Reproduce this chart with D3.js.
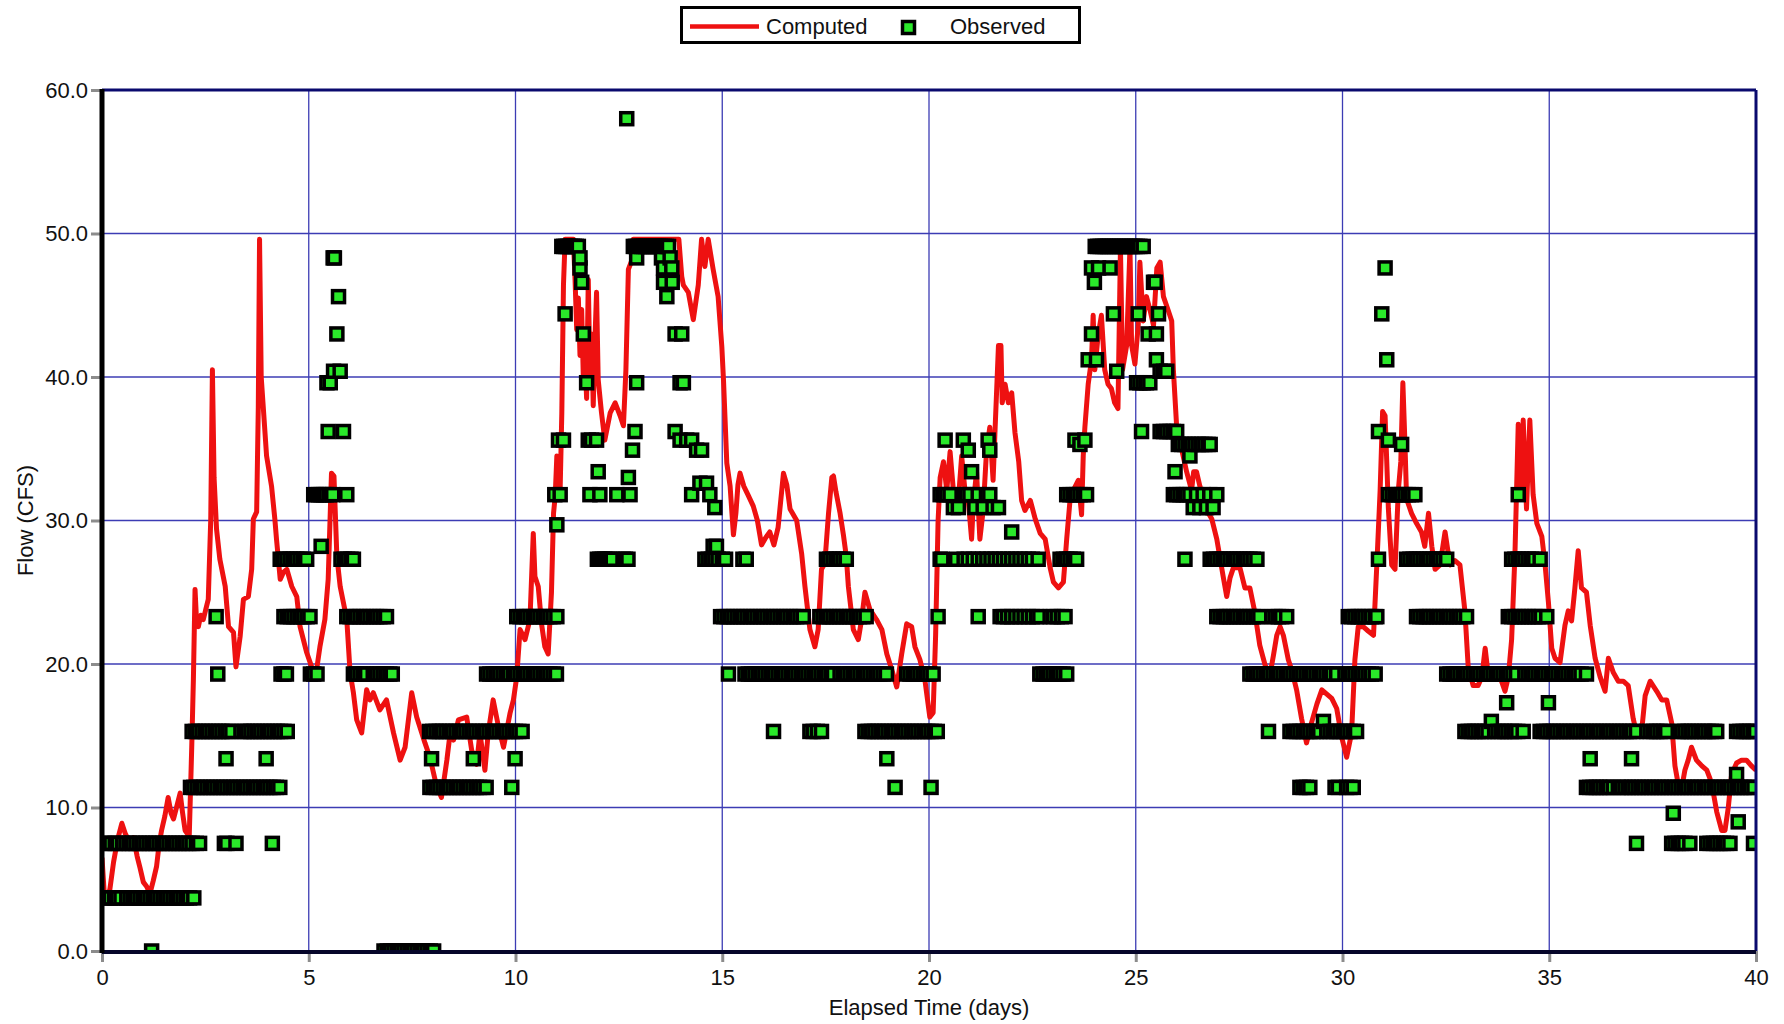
<!DOCTYPE html>
<html>
<head>
<meta charset="utf-8">
<script src="https://cdn.jsdelivr.net/npm/d3@7"></script>
<style>
  body { margin: 0; background: #fff; }
  text { font-family: "Liberation Sans", Arial, Helvetica, sans-serif; }
</style>
</head>
<body>
<svg id="chart" width="1784" height="1024"></svg>
<script>
'use strict';

// tick values
const xTicks = [0, 5, 10, 15, 20, 25, 30, 35, 40];
const yTicks = [0, 10, 20, 30, 40, 50, 60];

// computed flow, [elapsed day, cfs]
const computed = [
  [0.00,6.5],[0.05,4.2],[0.12,3.6],[0.19,4.3],[0.28,6.2],[0.38,7.8],[0.48,8.9],[0.56,8.2],[0.66,7.6],[0.76,7.9],
  [0.85,6.6],[0.92,5.8],[1.00,4.8],[1.08,4.5],[1.16,4.0],[1.24,4.9],[1.32,5.9],[1.38,7.4],[1.44,8.4],[1.52,9.4],
  [1.60,10.7],[1.67,9.6],[1.73,9.2],[1.81,10.1],[1.89,11.0],[1.95,9.6],[2.01,8.4],[2.11,8.0],[2.17,14.2],[2.21,18.9],
  [2.25,25.2],[2.29,22.8],[2.33,22.6],[2.39,23.4],[2.45,23.1],[2.51,23.8],[2.57,24.5],[2.63,30.1],[2.67,40.5],[2.71,33.0],
  [2.77,29.4],[2.85,27.3],[2.98,25.4],[3.06,22.6],[3.18,22.2],[3.24,19.8],[3.34,21.9],[3.42,24.5],[3.54,24.7],[3.62,26.6],
  [3.66,30.1],[3.74,30.6],[3.78,37.9],[3.81,49.6],[3.85,40.0],[3.90,37.9],[3.98,34.5],[4.10,32.4],[4.18,30.1],[4.22,28.7],
  [4.31,25.9],[4.39,26.4],[4.47,26.6],[4.59,25.4],[4.71,24.7],[4.79,22.6],[4.95,20.8],[5.07,19.8],[5.19,19.6],[5.27,21.2],
  [5.39,23.1],[5.47,25.9],[5.55,33.3],[5.61,33.1],[5.68,27.5],[5.76,25.4],[5.92,23.1],[6.00,19.4],[6.08,18.0],[6.16,16.1],
  [6.28,15.2],[6.40,18.2],[6.48,17.5],[6.56,18.0],[6.72,16.8],[6.88,17.5],[7.05,15.2],[7.21,13.3],[7.33,14.2],[7.49,18.0],
  [7.61,16.3],[7.81,14.5],[7.93,13.5],[8.09,11.5],[8.21,10.7],[8.34,13.3],[8.42,15.2],[8.50,14.7],[8.62,16.1],[8.82,16.3],
  [8.94,14.0],[9.06,13.0],[9.14,15.2],[9.26,12.6],[9.34,15.2],[9.46,17.5],[9.59,15.6],[9.71,14.2],[9.87,16.6],[9.95,17.5],
  [10.03,19.1],[10.11,22.4],[10.23,21.7],[10.35,23.1],[10.43,29.1],[10.47,26.1],[10.55,25.4],[10.63,22.8],[10.71,21.2],[10.79,20.7],
  [10.87,25.0],[10.92,30.5],[10.96,31.7],[11.00,34.5],[11.08,32.2],[11.12,37.5],[11.16,46.4],[11.20,49.6],[11.40,49.6],[11.44,46.8],
  [11.48,43.3],[11.52,45.5],[11.56,41.5],[11.60,44.7],[11.64,40.0],[11.68,41.4],[11.72,38.5],[11.76,46.8],[11.80,40.2],[11.84,43.0],
  [11.88,38.0],[11.92,42.5],[11.96,45.9],[12.00,39.8],[12.08,37.5],[12.16,35.6],[12.29,37.5],[12.41,38.2],[12.53,37.3],[12.61,36.6],
  [12.67,40.5],[12.73,47.5],[12.81,48.1],[12.85,49.6],[13.95,49.6],[14.02,47.0],[14.06,46.4],[14.18,45.9],[14.30,44.0],[14.42,46.4],
  [14.50,49.6],[14.58,47.7],[14.66,49.6],[14.78,47.5],[14.90,45.6],[14.99,42.1],[15.03,39.8],[15.11,34.0],[15.19,32.4],[15.27,29.0],
  [15.33,30.5],[15.38,32.5],[15.43,33.3],[15.52,32.4],[15.62,31.8],[15.75,31.0],[15.85,30.0],[15.95,28.3],[16.05,28.8],[16.15,29.2],
  [16.25,28.3],[16.35,29.5],[16.48,33.3],[16.56,32.5],[16.64,30.8],[16.80,30.0],[16.92,27.7],[17.00,25.4],[17.12,22.4],[17.24,21.2],
  [17.32,22.4],[17.40,26.6],[17.48,27.0],[17.57,30.5],[17.65,33.0],[17.69,33.1],[17.75,32.0],[17.85,30.5],[17.93,29.0],[18.00,27.5],
  [18.05,25.4],[18.17,22.4],[18.29,21.7],[18.37,23.1],[18.45,25.0],[18.57,23.8],[18.73,23.1],[18.86,22.4],[18.98,20.7],[19.10,19.6],
  [19.22,18.4],[19.34,20.7],[19.46,22.8],[19.58,22.6],[19.66,21.2],[19.78,20.3],[19.90,18.9],[20.02,16.3],[20.10,16.6],[20.16,22.0],
  [20.22,30.0],[20.27,33.0],[20.35,34.1],[20.43,32.1],[20.51,34.8],[20.59,32.1],[20.71,31.4],[20.79,34.5],[20.87,32.1],[20.95,31.4],
  [21.03,28.7],[21.07,31.1],[21.15,33.4],[21.23,28.7],[21.31,30.7],[21.39,34.8],[21.47,36.5],[21.55,32.8],[21.60,36.5],[21.68,42.2],
  [21.74,42.2],[21.77,38.2],[21.84,39.5],[21.92,38.2],[22.00,38.9],[22.08,36.1],[22.17,34.1],[22.24,31.4],[22.32,30.7],[22.45,31.4],
  [22.57,30.1],[22.69,29.1],[22.81,28.7],[22.93,26.7],[23.01,25.7],[23.13,25.3],[23.25,25.7],[23.33,28.7],[23.41,31.4],[23.49,32.1],
  [23.61,32.8],[23.69,30.4],[23.73,34.5],[23.77,36.5],[23.85,39.5],[23.93,41.2],[23.97,44.3],[24.01,40.5],[24.09,42.9],[24.17,44.3],
  [24.25,40.5],[24.33,39.5],[24.41,39.2],[24.49,38.2],[24.57,37.8],[24.63,49.0],[24.68,40.5],[24.78,42.2],[24.86,49.0],[24.90,42.2],
  [24.98,40.9],[25.06,43.6],[25.10,48.0],[25.18,43.9],[25.26,45.6],[25.35,44.6],[25.43,43.6],[25.51,47.6],[25.59,48.0],[25.67,45.6],
  [25.79,44.6],[25.87,43.9],[25.91,40.5],[25.99,36.5],[26.07,35.5],[26.23,33.4],[26.35,32.1],[26.40,33.4],[26.47,33.4],[26.55,32.4],
  [26.72,30.7],[26.84,30.1],[26.96,28.7],[27.12,26.0],[27.20,24.7],[27.28,26.0],[27.36,26.7],[27.52,26.7],[27.64,25.3],[27.76,25.3],
  [27.88,23.6],[28.00,21.3],[28.13,19.9],[28.25,19.3],[28.33,20.6],[28.41,22.0],[28.49,22.6],[28.57,22.0],[28.69,20.3],[28.77,19.6],
  [28.89,18.2],[29.01,16.2],[29.13,14.5],[29.25,15.9],[29.38,17.2],[29.50,18.2],[29.62,17.9],[29.74,17.6],[29.86,16.9],[29.98,14.9],
  [30.10,13.5],[30.22,15.2],[30.30,20.3],[30.38,22.6],[30.50,22.6],[30.62,22.3],[30.75,22.0],[30.83,26.9],[30.91,32.1],[30.97,37.6],
  [31.03,37.3],[31.07,34.1],[31.11,30.8],[31.19,26.9],[31.27,26.6],[31.35,32.1],[31.41,34.1],[31.46,39.6],[31.51,35.4],[31.55,31.5],
  [31.67,30.5],[31.79,29.8],[31.91,29.2],[31.99,28.2],[32.08,30.5],[32.16,28.2],[32.24,26.6],[32.36,26.9],[32.48,29.2],[32.60,26.9],
  [32.72,27.2],[32.84,26.9],[32.96,23.7],[33.04,19.8],[33.16,18.5],[33.28,18.5],[33.37,19.1],[33.45,21.1],[33.53,19.1],[33.65,19.4],
  [33.81,19.1],[33.93,18.1],[34.01,19.1],[34.09,21.7],[34.17,27.6],[34.25,36.7],[34.33,32.4],[34.37,37.0],[34.45,30.8],[34.53,37.0],
  [34.61,31.8],[34.70,29.8],[34.82,28.9],[34.90,26.9],[34.98,24.3],[35.06,21.1],[35.14,20.4],[35.26,20.1],[35.38,22.7],[35.46,23.7],
  [35.54,23.0],[35.62,25.3],[35.70,27.9],[35.78,25.3],[35.90,25.0],[35.99,22.7],[36.11,20.4],[36.23,19.1],[36.35,18.1],[36.43,20.4],
  [36.55,19.4],[36.67,18.8],[36.79,18.8],[36.91,18.5],[37.03,16.2],[37.11,15.2],[37.23,15.2],[37.32,17.8],[37.44,18.8],[37.60,18.1],
  [37.72,17.5],[37.84,17.5],[37.96,15.9],[38.04,12.9],[38.12,11.6],[38.20,11.3],[38.28,12.6],[38.36,13.3],[38.44,14.2],[38.56,13.3],
  [38.69,12.9],[38.81,12.6],[38.89,12.0],[38.97,11.0],[39.05,9.7],[39.17,8.4],[39.25,8.4],[39.33,10.0],[39.41,12.3],[39.53,13.1],
  [39.65,13.3],[39.77,13.3],[39.89,12.9],[40.00,12.6]
];

// observed flow: [cfs, days on which that value was observed]
const observed = [
  [0.0, [1.20,6.82,6.90,6.98,7.06,7.14,7.22,7.30,7.38,7.46,7.54,7.62,7.70,7.78,7.86,7.94,8.02]],
  [3.7, [0.02,0.10,0.20,0.30,0.38,0.46,0.60,0.68,0.76,0.84,0.92,1.00,1.08,1.16,1.24,1.32,1.40,1.48,1.56,1.64,
         1.72,1.80,1.88,1.96,2.04,2.12,2.22]],
  [7.5, [0.04,0.12,0.22,0.32,0.40,0.50,0.58,0.66,0.74,0.82,0.90,0.98,1.06,1.14,1.22,1.30,1.38,1.46,1.54,1.62,
         1.70,1.78,1.86,1.94,2.02,2.10,2.18,2.28,2.36,2.96,3.02,3.24,4.12,37.11,37.96,38.04,38.12,38.20,38.28,38.40,
         38.81,38.89,38.97,39.05,39.13,39.21,39.29,39.37,39.94]],
  [9.0, [39.57]],
  [9.6, [38.00]],
  [11.4, [2.14,2.22,2.30,2.38,2.46,2.54,2.62,2.70,2.78,2.86,2.94,3.02,3.10,3.18,3.26,3.34,3.42,3.50,3.58,3.66,
          3.74,3.82,3.90,3.98,4.06,4.14,4.22,4.30,7.93,8.01,8.09,8.17,8.25,8.33,8.41,8.49,8.57,8.65,8.73,8.81,
          8.89,8.97,9.05,9.13,9.21,9.29,9.91,19.18,20.05,28.97,29.05,29.13,29.21,29.82,29.90,30.10,30.18,30.26,
          35.90,35.98,36.06,36.14,36.22,36.30,36.38,36.46,36.55,36.67,36.75,36.83,36.91,36.99,37.07,37.15,37.23,
          37.31,37.39,37.47,37.55,37.63,37.71,37.79,37.87,37.95,38.03,38.11,38.19,38.27,38.35,38.43,38.51,38.59,
          38.67,38.75,38.83,38.91,38.99,39.07,39.15,39.23,39.31,39.39,39.47,39.55,39.63,39.71,39.79,39.87,39.95]],
  [12.3, [39.53]],
  [13.4, [3.00,3.97,7.97,8.98,9.99,18.98,35.99,36.99]],
  [15.3, [2.18,2.26,2.34,2.42,2.50,2.58,2.66,2.74,2.82,2.90,2.98,3.06,3.14,3.36,3.44,3.52,3.60,3.68,3.76,3.84,
          3.92,4.00,4.08,4.16,4.24,4.32,4.40,4.48,7.92,8.00,8.08,8.16,8.24,8.32,8.40,8.48,8.56,8.64,8.72,8.80,
          8.88,8.96,9.04,9.12,9.20,9.28,9.36,9.44,9.52,9.60,9.68,9.76,9.84,9.92,10.00,10.08,10.16,16.24,17.12,17.20,
          17.30,17.40,18.45,18.53,18.61,18.69,18.77,18.85,18.93,19.01,19.09,19.17,19.25,19.33,19.41,19.49,19.57,19.65,
          19.73,19.81,19.89,19.97,20.05,20.13,20.20,28.21,28.73,28.81,28.89,28.97,29.05,29.13,29.21,29.29,29.37,29.45,
          29.62,29.70,29.78,29.86,29.94,30.02,30.10,30.18,30.26,30.34,32.96,33.04,33.12,33.20,33.28,33.36,33.44,33.52,
          33.68,33.76,33.84,33.92,34.00,34.08,34.16,34.24,34.37,34.78,34.86,34.94,35.02,35.10,35.18,35.26,35.34,35.42,
          35.50,35.58,35.66,35.74,35.82,35.90,35.98,36.06,36.14,36.22,36.30,36.38,36.46,36.54,36.62,36.70,36.78,36.86,
          36.94,37.02,37.11,37.36,37.44,37.52,37.60,37.68,37.76,37.84,38.12,38.20,38.28,38.36,38.44,38.52,38.60,38.68,
          38.76,38.84,38.92,39.00,39.05,39.53,39.61,39.69,39.77,39.85,39.93,39.99]],
  [16.0, [29.54,33.60]],
  [17.3, [33.97,34.98]],
  [19.3, [2.80,4.33,4.40,4.46,5.04,5.12,5.20,6.08,6.16,6.24,6.32,6.40,6.56,6.64,6.72,6.80,6.88,6.96,7.02,9.30,
          9.38,9.46,9.54,9.62,9.70,9.78,9.86,9.95,10.03,10.11,10.19,10.27,10.35,10.43,10.51,10.59,10.67,10.75,10.83,10.91,
          10.99,15.15,15.55,15.63,15.71,15.79,15.87,15.95,16.03,16.11,16.19,16.27,16.35,16.43,16.51,16.59,16.67,16.75,16.83,
          16.91,16.99,17.07,17.15,17.23,17.31,17.39,17.47,17.55,17.63,17.69,17.85,17.93,18.01,18.09,18.17,18.25,18.33,18.41,
          18.49,18.57,18.65,18.73,18.81,18.89,18.97,19.46,19.54,19.62,19.70,19.78,19.86,19.94,20.02,20.10,22.68,22.76,22.84,
          22.92,23.00,23.08,23.16,23.24,23.33,27.76,27.84,27.92,28.00,28.08,28.16,28.24,28.32,28.40,28.48,28.56,28.64,28.72,
          28.80,28.88,28.96,29.04,29.12,29.20,29.28,29.36,29.44,29.52,29.60,29.68,29.76,29.86,30.06,30.14,30.22,30.30,30.38,
          30.46,30.54,30.62,30.70,30.79,32.52,32.60,32.68,32.76,32.84,32.92,33.00,33.08,33.16,33.24,33.32,33.40,33.48,33.56,
          33.64,33.72,33.80,33.88,33.96,34.04,34.12,34.21,34.41,34.49,34.57,34.65,34.73,34.81,34.89,34.97,35.05,35.13,35.21,
          35.29,35.37,35.45,35.53,35.61,35.69,35.77,35.90]],
  [23.3, [2.76,4.40,4.48,4.56,4.64,4.72,4.80,4.88,4.96,5.03,5.92,6.00,6.08,6.16,6.24,6.32,6.40,6.48,6.56,6.64,
          6.72,6.80,6.88,10.03,10.11,10.19,10.27,10.35,10.43,10.51,10.59,10.67,10.75,10.83,10.91,11.00,14.96,15.04,15.12,
          15.20,15.28,15.36,15.44,15.52,15.60,15.68,15.76,15.84,15.92,16.00,16.08,16.16,16.24,16.32,16.40,16.48,16.56,16.64,
          16.72,16.80,16.88,16.96,17.36,17.44,17.52,17.60,17.68,17.76,17.84,17.92,18.00,18.08,18.16,18.24,18.32,18.40,18.48,
          20.22,21.19,21.72,21.80,21.90,22.00,22.10,22.20,22.30,22.40,22.50,22.60,22.68,22.93,23.01,23.10,23.20,23.29,26.96,
          27.04,27.12,27.20,27.28,27.36,27.44,27.52,27.60,27.68,27.76,27.84,27.92,28.00,28.29,28.37,28.45,28.53,28.65,30.14,
          30.22,30.30,30.38,30.46,30.54,30.62,30.70,30.79,30.83,31.79,31.87,31.95,32.03,32.11,32.19,32.27,32.35,32.43,32.51,
          32.59,32.67,32.75,32.83,32.91,33.00,34.01,34.09,34.17,34.25,34.33,34.41,34.49,34.57,34.65,34.73,34.81,34.94]],
  [27.3, [4.31,4.39,4.47,4.55,4.63,4.71,4.79,4.87,4.95,5.78,5.86,5.94,6.02,6.08,11.98,12.04,12.10,12.16,12.22,12.28,
          12.34,12.60,12.66,12.72,14.58,14.66,14.74,14.82,14.90,15.00,15.08,15.50,15.58,17.52,17.60,17.68,17.76,17.84,17.92,
          18.00,20.27,20.31,20.67,20.85,20.95,21.07,21.19,21.30,21.40,21.50,21.60,21.70,21.80,21.90,22.00,22.10,22.20,22.30,
          22.40,22.50,22.64,23.17,23.25,23.33,23.41,23.49,23.57,26.19,26.80,26.88,26.96,27.04,27.12,27.20,27.28,27.36,27.44,
          27.52,27.60,27.68,27.76,27.84,27.93,30.87,31.55,31.63,31.71,31.79,31.87,31.95,32.03,32.11,32.19,32.27,32.35,32.43,
          32.52,34.09,34.17,34.25,34.33,34.41,34.49,34.57,34.65,34.78]],
  [28.2, [5.30,14.78,14.86]],
  [29.2, [22.00]],
  [29.7, [11.00]],
  [30.9, [14.82,20.59,20.71,21.11,21.31,21.55,21.68,26.39,26.55,26.71,26.87]],
  [31.8, [5.12,5.18,5.24,5.30,5.36,5.42,5.50,5.58,5.92,10.95,11.08,11.80,12.04,12.45,12.77,14.26,14.70,20.27,20.35,20.43,
          20.51,20.83,20.91,20.99,21.19,21.39,21.47,23.33,23.41,23.49,23.57,23.65,23.73,23.81,25.91,25.99,26.07,26.15,26.23,
          26.31,26.47,26.63,26.79,26.96,31.11,31.20,31.28,31.36,31.43,31.51,31.59,31.67,31.75,34.25]],
  [32.6, [14.46,14.62]],
  [33.0, [12.73]],
  [33.4, [12.00,21.03,25.95]],
  [34.5, [26.31]],
  [34.9, [12.83,14.38,14.50,20.95,21.47]],
  [35.3, [23.65,26.03,26.11,26.19,26.27,26.35,26.43,26.51,26.59,26.67,26.75,26.80,31.43]],
  [35.6, [11.04,11.16,11.76,11.84,11.96,13.98,14.14,14.26,20.39,20.83,21.43,23.53,23.77,31.11]],
  [36.2, [5.47,5.84,12.89,13.86,25.14,25.59,25.67,25.75,25.83,25.91,25.99,30.87]],
  [39.6, [5.44,5.52,11.72,12.93,13.98,14.06,25.02,25.10,25.18,25.26,25.34]],
  [40.4, [5.60,5.76,24.54,25.59,25.67,25.75]],
  [41.2, [23.85,24.05,25.50,31.07]],
  [43.0, [5.68,11.64,13.86,14.02,23.93,25.30,25.50]],
  [44.4, [11.20,24.46,25.06,25.55,30.95]],
  [45.6, [5.72,13.66]],
  [46.6, [11.60,13.58,13.79,24.00,25.43,25.47]],
  [47.6, [11.56,13.58,13.78,23.93,24.10,24.38,31.03]],
  [48.3, [5.59,5.62,11.56,12.93,13.53,13.74]],
  [49.1, [11.12,11.17,11.22,11.27,11.32,11.37,11.42,11.47,11.52,12.85,12.90,12.95,13.00,13.05,13.10,13.15,13.20,13.25,13.30,13.35,
          13.40,13.45,13.50,13.55,13.60,13.65,13.70,24.02,24.08,24.14,24.20,24.26,24.32,24.38,24.44,24.50,24.56,24.62,24.68,24.74,
          24.80,24.86,24.92,24.98,25.04,25.10,25.18]],
  [58.0, [12.69]]
];

const width = 1784;
const height = 1024;
const plot = {left: 102, right: 1756, top: 90, bottom: 951};

const x = d3.scaleLinear().domain([0, 40]).range([plot.left, plot.right]);
const y = d3.scaleLinear().domain([0, 60]).range([plot.bottom, plot.top]);

const svg = d3.select("#chart");
svg.append("rect").attr("width", width).attr("height", height).attr("fill", "#fff");

svg.append("defs").append("clipPath").attr("id", "plotclip")
  .append("rect")
    .attr("x", plot.left).attr("y", plot.top)
    .attr("width", plot.right - plot.left).attr("height", plot.bottom - plot.top);

// grid
const grid = svg.append("g").attr("stroke", "#3c3cb4").attr("stroke-width", 1.3);
grid.selectAll(".vgrid")
  .data(xTicks.slice(1, -1))
  .enter().append("line")
    .attr("x1", d => x(d)).attr("x2", d => x(d))
    .attr("y1", plot.top).attr("y2", plot.bottom);
grid.selectAll(".hgrid")
  .data(yTicks.slice(1, -1))
  .enter().append("line")
    .attr("x1", plot.left).attr("x2", plot.right)
    .attr("y1", d => y(d)).attr("y2", d => y(d));

// computed line
const line = d3.line().x(d => x(d[0])).y(d => y(d[1]));
svg.append("path")
  .datum(computed)
  .attr("clip-path", "url(#plotclip)")
  .attr("d", line)
  .attr("fill", "none")
  .attr("stroke", "#ee1111")
  .attr("stroke-width", 5)
  .attr("stroke-linejoin", "round");

// observed squares, drawn in time order
const obsPoints = [];
observed.forEach(function(row) {
  row[1].forEach(function(t) { obsPoints.push({t: t, q: row[0]}); });
});
obsPoints.sort((a, b) => a.t - b.t);

const sq = 12;
svg.append("g")
  .attr("clip-path", "url(#plotclip)")
  .selectAll("rect")
  .data(obsPoints)
  .enter().append("rect")
    .attr("x", d => x(d.t) - sq / 2)
    .attr("y", d => y(d.q) - sq / 2)
    .attr("width", sq)
    .attr("height", sq)
    .attr("fill", "#2ae82a")
    .attr("stroke", "#000")
    .attr("stroke-width", 3.5);

// axes (ticks + labels)
const xAxis = d3.axisBottom(x).tickValues(xTicks).tickFormat(d3.format("d")).tickSize(11).tickPadding(7);
svg.append("g")
  .attr("transform", "translate(0," + plot.bottom + ")")
  .call(xAxis)
  .call(g => g.select(".domain").remove())
  .call(g => g.selectAll(".tick line").attr("stroke", "#8c8c8c").attr("stroke-width", 3))
  .call(g => g.selectAll(".tick text").attr("fill", "#111"))
  .attr("font-size", 22)
  .attr("font-family", '"Liberation Sans", Arial, sans-serif');

const yAxis = d3.axisLeft(y).tickValues(yTicks).tickFormat(d3.format(".1f")).tickSize(11).tickPadding(3);
svg.append("g")
  .attr("transform", "translate(" + plot.left + ",0)")
  .call(yAxis)
  .call(g => g.select(".domain").remove())
  .call(g => g.selectAll(".tick line").attr("stroke", "#8c8c8c").attr("stroke-width", 3))
  .call(g => g.selectAll(".tick text").attr("fill", "#111"))
  .attr("font-size", 22)
  .attr("font-family", '"Liberation Sans", Arial, sans-serif');

// frame
svg.append("line")
  .attr("x1", plot.left).attr("x2", plot.right)
  .attr("y1", plot.top).attr("y2", plot.top)
  .attr("stroke", "#0a0a6e").attr("stroke-width", 3);
svg.append("line")
  .attr("x1", plot.right).attr("x2", plot.right)
  .attr("y1", plot.top).attr("y2", plot.bottom)
  .attr("stroke", "#0a0a6e").attr("stroke-width", 3);
svg.append("line")
  .attr("x1", plot.left).attr("x2", plot.right)
  .attr("y1", plot.bottom + 1).attr("y2", plot.bottom + 1)
  .attr("stroke", "#06062a").attr("stroke-width", 4);
svg.append("line")
  .attr("x1", plot.left).attr("x2", plot.left)
  .attr("y1", plot.top - 1).attr("y2", plot.bottom + 2)
  .attr("stroke", "#000").attr("stroke-width", 5);

// axis titles
svg.append("text")
  .attr("x", (plot.left + plot.right) / 2)
  .attr("y", 1015)
  .attr("text-anchor", "middle")
  .attr("font-size", 22)
  .attr("fill", "#111")
  .text("Elapsed Time (days)");

svg.append("text")
  .attr("transform", "translate(33," + ((plot.top + plot.bottom) / 2) + ")rotate(-90)")
  .attr("text-anchor", "middle")
  .attr("font-size", 22)
  .attr("fill", "#111")
  .text("Flow (CFS)");

// legend
const legend = svg.append("g");
legend.append("rect")
  .attr("x", 681.5).attr("y", 7.5).attr("width", 398).attr("height", 35)
  .attr("fill", "#fff").attr("stroke", "#000").attr("stroke-width", 3);
legend.append("line")
  .attr("x1", 690).attr("x2", 759).attr("y1", 26.5).attr("y2", 26.5)
  .attr("stroke", "#ee1111").attr("stroke-width", 4.5);
legend.append("text")
  .attr("x", 766).attr("y", 34)
  .attr("font-size", 22).attr("fill", "#111")
  .text("Computed");
legend.append("rect")
  .attr("x", 902.5).attr("y", 21.5).attr("width", sq).attr("height", sq)
  .attr("fill", "#2ae82a").attr("stroke", "#000").attr("stroke-width", 3.5);
legend.append("text")
  .attr("x", 950).attr("y", 34)
  .attr("font-size", 22).attr("fill", "#111")
  .text("Observed");
</script>
</body>
</html>
